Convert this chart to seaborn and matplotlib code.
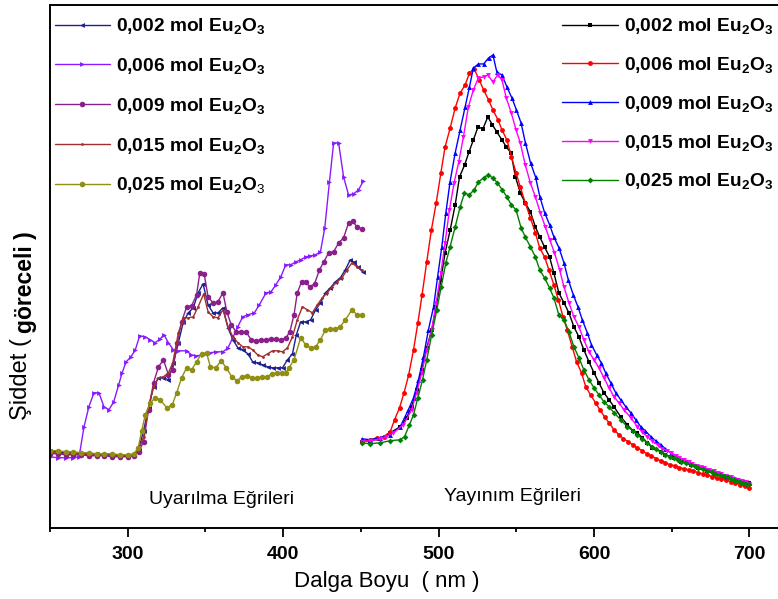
import matplotlib
matplotlib.use("Agg")
import matplotlib.pyplot as plt
import seaborn as sns
import numpy as np

sns.set_style("white")
plt.rcParams['font.family'] = ['Liberation Sans', 'DejaVu Sans']
plt.rcParams['mathtext.fontset'] = 'custom'
plt.rcParams['mathtext.rm'] = 'Liberation Sans'
plt.rcParams['mathtext.bf'] = 'Liberation Sans:bold'
plt.rcParams['mathtext.it'] = 'Liberation Sans:italic'
plt.rcParams['text.color'] = 'black'
plt.rcParams['axes.labelcolor'] = 'black'
plt.rcParams['xtick.color'] = 'black'
plt.rcParams['ytick.color'] = 'black'

# ---------------- data (wavelength nm, relative intensity) ----------------
ex_labels = [r"0,002 mol Eu$_\mathbf{2}$O$_\mathbf{3}$",
             r"0,006 mol Eu$_\mathbf{2}$O$_\mathbf{3}$",
             r"0,009 mol Eu$_\mathbf{2}$O$_\mathbf{3}$",
             r"0,015 mol Eu$_\mathbf{2}$O$_\mathbf{3}$",
             r"0,025 mol Eu$_\mathbf{2}$O$_\mathrm{3}$"]
em_labels = [r"0,002 mol Eu$_\mathbf{2}$O$_\mathbf{3}$",
             r"0,006 mol Eu$_\mathbf{2}$O$_\mathbf{3}$",
             r"0,009 mol Eu$_\mathbf{2}$O$_\mathbf{3}$",
             r"0,015 mol Eu$_\mathbf{2}$O$_\mathbf{3}$",
             r"0,025 mol Eu$_\mathbf{2}$O$_\mathbf{3}$"]

# Excitation curves
ex002_x = [250,255,260,265,270,275,280,285,290,295,300,304,307,310.2,313.4,316.6,319.8,323,326.2,329.4,332.6,335.8,339,342.2,345.3,348.5,351.7,354.9,358.1,361.3,364.5,367.7,370.9,374.1,377.3,380.4,383.6,386.8,390,393.2,396.4,399.6,402.8,406,408.5,411.3,414.5,417.7,420.9,424,427.2,430.4,433.6,436.8,440,443.2,445.3,448.1,451.1]
ex002_y = [75,74,73,73,72,72,72,71,71,70,70,71,76,95,118,139,148,148,146,163,183,204,213,218,233,242,221,213,213,218,198,186,178,176,172,164,163,161,159,158,158,158,166,172,191,204,204,206,216,223,233,238,244,248,256,266,264,259,254]

ex006_x = [250,255,260,265,268.7,271.9,275,278.3,281.5,284.7,287.9,291,294.2,296.4,299,302.1,304.9,307.7,311.3,314.5,317.7,320.9,323.4,326.2,329.4,332.6,337.9,341,344.2,348.5,352.8,357,361.3,364.5,367.6,370.8,374,377.2,381.5,384.7,389,392.2,395.3,398.5,401.7,404.9,408.1,411.3,414.5,417.6,420.8,424,426.8,429.8,432.5,435.7,438.9,442.1,445.3,448.5,451.7]
ex006_y = [69,68,68,68,69,99,119,133,133,119,116,124,141,153,164,169,176,190,189,186,183,187,191,183,176,175,175,171,170,171,173,174,174,178,188,199,209,211,213,221,233,234,241,249,261,261,264,266,269,270,271,274,298,344,383,383,349,331,332,336,345]

ex009_x = [250,255,260,265,270,275,280,285,290,295,300,304,307,310.2,313.4,316.6,319.8,323,326.2,329,331.9,334.7,337.9,341.1,344.3,346.4,349.2,351.7,354.9,358,361.3,363.8,366.6,369.8,373,376.2,379.4,382.6,385.8,389,392.2,395.4,398.6,401.8,404.3,407,409.1,411.9,414.5,417,420.2,423.4,426.1,429.3,432.5,435.7,438.9,442.1,444.8,447.4,450.6]
ex009_y = [72,72,71,71,71,70,70,70,69,69,69,70,74,84,116,143,159,166,151,156,183,204,219,220,231,253,252,229,223,224,233,214,201,194,194,194,186,185,186,186,187,187,186,188,194,211,233,244,244,239,242,256,264,273,274,283,288,303,305,299,297]

ex015_x = [250,255,260,265,270,275,280,285,290,295,300,304,307,310.2,313.4,316.6,319.8,323,326.2,329,332.6,335.8,339,342.2,345.3,348.9,351.7,354.9,358.1,361.3,364.5,367.7,370.9,374.1,377.3,380.4,383.6,386.8,390,393.2,396.4,399.6,402.8,406,409.1,412.4,415.6,418.8,422,425.2,428.4,431.5,434.7,437.9,441.1,444.3,447.5,450.6]
ex015_y = [73,73,72,72,72,71,71,71,70,70,70,71,76,89,118,139,148,149,153,163,193,208,208,209,219,232,214,209,208,216,199,189,183,179,179,176,171,169,172,175,175,174,178,189,206,219,216,213,221,228,233,239,244,248,256,263,259,256]

ex025_x = [250,255,260,265,270,275,280,285,290,295,300,304,306.8,309,311.3,314.5,317.7,320.9,325.1,328.7,331.5,334.7,337.9,341.1,344.3,347.5,350.7,353.2,356.6,360.2,363.4,367,370.4,373.4,376.6,379.8,383,386.2,389.6,392.6,396,399.2,401.7,403.8,407,411.3,414.5,417.7,420.9,424,427.2,430.4,433.6,436.8,440,444.3,447.5,450.6]
ex025_y = [75,75,74,74,73,73,72,72,72,71,71,72,78,95,111,123,128,126,118,121,133,148,158,156,164,172,173,159,158,165,158,149,145,149,150,148,148,149,149,152,153,153,153,158,166,188,181,178,179,186,196,197,197,199,206,216,211,211]

# Emission curves
em002_x = [450.6,456,462.4,468.9,475.3,479.5,482.7,485.9,489.2,492.4,495.6,498.5,501.5,504.2,507.5,510.7,513.5,516.8,519.6,522.4,525.4,528.5,531.7,534.7,537.5,540.8,543.6,546.6,549.5,552.6,555.8,559.1,562.3,565.1,568.2,571.4,574.2,577.4,580.7,583.9,587.1,590.3,593.5,596.8,600,603.2,606.4,609.7,612.9,617.2,621.5,625,628,631,634.4,637.5,643,646,651.5,656,662.2,667,673,678,683.7,688,692.2,696,699.9]
em002_y = [84,85,87,93,99,108,119,136,156,178,196,219,246,273,296,321,349,361,374,386,399,397,409,401,394,386,379,373,349,333,323,314,299,289,279,269,253,233,223,213,199,189,176,164,153,143,133,126,119,109,101,95,93,88,83,78,74,71,68,64,61,58,55,52,50,48,46,44,43]

em006_x = [450.6,456,460.3,464.6,468.9,471.7,474.9,477.8,480.8,483.9,486.7,489.4,492.4,495.4,498.5,501.5,504.2,507.5,510.7,513.9,517.1,519.9,522.9,526.2,529,532.2,535,538.3,540.8,544,546.9,549.9,552.6,555.8,559.1,562.3,565.1,568.2,571,574.2,577.1,580.1,582.8,586,588.8,592,594.7,597.8,601,603.8,606.8,609.7,612.9,616.1,619,622,625,628,631,634,637,640,643,646,649,652,655,658,661,664,667,670,673,676,679,682,685,688,691,694,697,700]
em006_y = [84,86,88,89,94,106,118,133,151,176,203,231,264,296,323,353,379,398,418,433,441,453,457,446,436,426,416,406,396,386,369,353,339,323,308,293,278,269,256,241,226,209,196,179,164,153,139,131,123,116,109,103,96,91,87,84,81,78,75,72,70,67,65,63,61,60,58,57,56,55,53,52,51,49,48,47,46,44,43,41,40,38]

em009_x = [450.6,456,462.4,468.9,475.3,480.6,483.9,487.1,490.3,493.5,496.8,499.4,502.1,504.7,507.4,510.7,513.9,517.1,519.9,522.4,525.7,529,532.2,535,537.5,540.8,544,547.2,550.1,553.1,555.9,559.2,562.4,565.2,568.3,571.5,574.2,577.5,580.7,583.5,586.7,589.7,592.5,595.7,598.4,601.7,604.7,607.5,610.8,614,617.2,620.5,623.7,626.9,630.1,633,636.6,639.8,643,646,649.4,652.5,655,658,661,663,666,668.8,671,674,677,679.5,682,685,688,690.2,693,695,698,699.9]
em009_y = [87,86,88,91,99,116,128,146,169,196,219,249,279,313,344,373,396,419,439,458,462,462,468,471,454,451,439,428,416,403,383,363,349,329,313,301,289,278,263,246,231,219,206,193,181,171,163,153,143,133,126,119,113,106,99,95,89,85,81,77,73,70,68,66,64,62,60,59,58,56,55,53,52,50,49,48,46,45,44,43]

em015_x = [450.6,456,462.4,466,471,477.4,482.7,485.9,489.2,492.4,495.6,498.5,501.5,504.2,507,510,513,516,519.2,522.4,525.6,529,531.7,535,538,540.8,543.6,546.8,549.9,552.6,555.8,559.1,562.3,565.5,568.7,571.6,574.6,577.9,580.7,583.9,587.1,590.3,593.5,596.8,600,603.2,606.4,609.7,612.9,616.1,619.3,623.7,628,631,634.4,637.5,640.9,644,647,649.4,652.5,655,658,661,663,666,668.8,671,674,677,679.5,682,685,688,690.2,693,695,698,699.9]
em015_y = [84,85,87,89,93,101,116,133,153,176,196,223,253,283,316,343,364,389,419,436,448,449,451,444,451,446,428,413,396,383,361,343,329,313,299,286,273,256,239,223,209,199,186,174,166,158,148,138,129,123,116,108,99,94,89,85,81,77,75,73,70,68,66,64,62,60,59,58,56,55,53,52,50,49,47,46,45,44,42]

em025_x = [450.6,456,462.4,468.9,475.3,478.1,481.3,483.9,486.7,489.7,492.4,495.6,498.9,501.7,504.7,507.4,510.7,513.9,516.7,519.7,522.9,525.7,529,531.7,535,537.9,541,544,546.8,549.9,553.1,555.8,559.1,562.3,565.1,568.2,571.4,574.2,577.4,580.7,583.9,587.1,590.3,593.5,596.8,600,603.2,606.4,609.7,612.9,617.2,621.5,625,628,631,634.4,637.5,640,643,646,649,651.5,654,656,659,662.2,665,667,670,673,676,678,681,683.7,686,688,690,692.2,694,696,698,699.9]
em025_y = [83,82,83,85,86,89,101,111,128,146,166,191,216,239,263,279,299,319,333,331,336,344,348,351,348,343,336,329,321,316,298,289,279,269,256,248,238,228,211,206,194,179,168,156,146,138,131,124,119,113,106,99,95,91,87,83,79,77,74,71,69,68,66,64,63,61,60,58,57,55,54,52,51,50,49,47,46,45,44,43,42,42]

ex_x = [ex002_x, ex006_x, ex009_x, ex015_x, ex025_x]
ex_y = [ex002_y, ex006_y, ex009_y, ex015_y, ex025_y]
em_x = [em002_x, em006_x, em009_x, em015_x, em025_x]
em_y = [em002_y, em006_y, em009_y, em015_y, em025_y]

ex_colors = ["#1f1f8f", "#8a1aff", "#8b1f8b", "#a0302c", "#8f8f14"]
ex_markers = ["<", ">", "o", ".", "o"]
ex_ms = [3.5, 3.5, 4, 4, 4]
em_colors = ["#000000", "#ff0000", "#0000ff", "#ff00ff", "#008000"]
em_markers = ["s", "o", "^", "v", "D"]
em_ms = [3, 3.5, 3.5, 3.5, 3]

# ---------------- figure ----------------
fig = plt.figure(figsize=(7.78, 5.99), dpi=100)
ax = fig.add_axes([50/778, (599-527.7)/599, 746/778, 522.7/599])

ex_handles = []
for xs, ys, c, m, ms, lab in zip(ex_x, ex_y, ex_colors, ex_markers, ex_ms, ex_labels):
    sns.lineplot(x=xs, y=ys, ax=ax, color=c, marker=m, markersize=ms,
                 markeredgewidth=0, linewidth=1.0, sort=False, estimator=None)
    ex_handles.append(ax.get_lines()[-1])
em_handles = []
for xs, ys, c, m, ms, lab in zip(em_x, em_y, em_colors, em_markers, em_ms, em_labels):
    sns.lineplot(x=xs, y=ys, ax=ax, color=c, marker=m, markersize=ms,
                 markeredgewidth=0, linewidth=1.0, sort=False, estimator=None)
    em_handles.append(ax.get_lines()[-1])

ax.set_xlim(250, 730)
ax.set_ylim(-2, 521)
ax.set_xticks([300, 400, 500, 600, 700])
ax.set_xticks([250, 350, 450, 550, 650], minor=True)
ax.set_yticks([])
ax.tick_params(axis='x', which='major', direction='out', length=6.5, width=1.3,
               labelsize=14, pad=7, bottom=True, labelcolor='black')
ax.tick_params(axis='x', which='minor', direction='out', length=3, width=1.3, bottom=True)
for lab in ax.get_xticklabels():
    lab.set_fontweight('bold')
for s in ax.spines.values():
    s.set_color('black')
    s.set_linewidth(1.4)
ax.set_xlabel("")
ax.set_ylabel("")

legprops = {'weight': 'bold', 'size': 13.8}
leg1 = ax.legend(ex_handles, ex_labels, loc='upper left', bbox_to_anchor=(-0.004, 0.993),
                 borderaxespad=0.0, frameon=False, prop=legprops, handlelength=2.9,
                 handletextpad=0.3, labelspacing=1.03)
ax.add_artist(leg1)
leg2 = ax.legend(em_handles, em_labels, loc='upper right', bbox_to_anchor=(0.979, 0.993),
                 borderaxespad=0.0, frameon=False, prop=legprops, handlelength=2.9,
                 handletextpad=0.3, labelspacing=0.98)
for lg in (leg1, leg2):
    for t in lg.get_texts():
        t.set_color('black')

# annotations
fig.text(221.5/778, (599-500)/599, "Uyarılma Eğrileri", ha='center', va='center', fontsize=14)
fig.text(513/778, (599-496.7)/599, "Yayınım Eğrileri", ha='center', va='center', fontsize=14)
fig.text(386.5/778, (599-582)/599, "Dalga Boyu  ( nm )", ha='center', va='center', fontsize=16)

# y label
fig.text(27/778, (599-420)/599, "Şiddet (", rotation=90, rotation_mode='anchor',
         ha='left', va='baseline', fontsize=17)
fig.text(32/778, (599-333)/599, "göreceli )", rotation=90, rotation_mode='anchor',
         ha='left', va='baseline', fontsize=16.5, fontweight='bold')

fig.savefig("out.png", dpi=100)
